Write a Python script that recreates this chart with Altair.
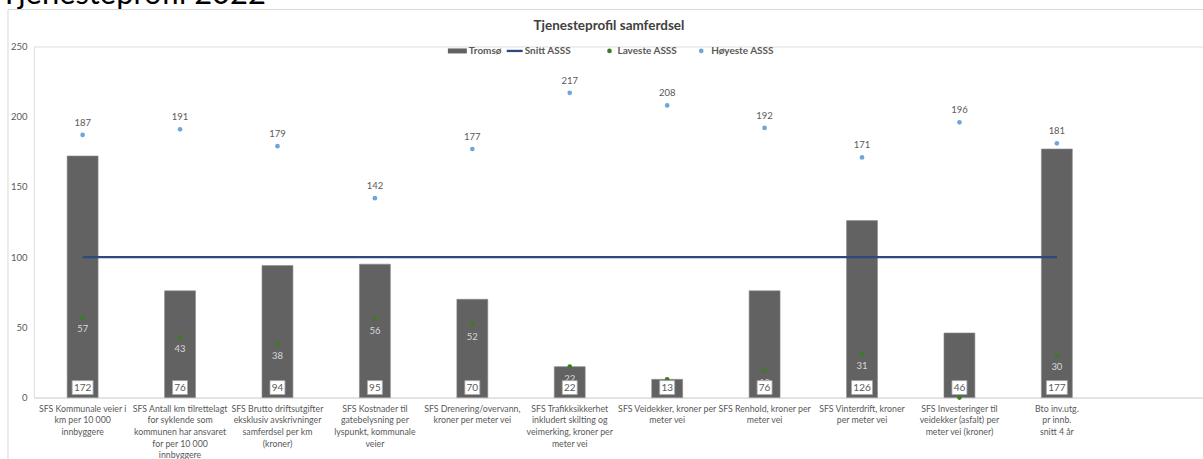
import altair as alt
import pandas as pd

categories = [
    "SFS Kommunale veier i\nkm per 10 000\ninnbyggere",
    "SFS Antall km tilrettelagt\nfor syklende som\nkommunen har ansvaret\nfor per 10 000\ninnbyggere",
    "SFS Brutto driftsutgifter\neksklusiv avskrivninger\nsamferdsel per km\n(kroner)",
    "SFS Kostnader til\ngatebelysning per\nlyspunkt, kommunale\nveier",
    "SFS Drenering/overvann,\nkroner per meter vei",
    "SFS Trafikksikkerhet\ninkludert skilting og\nveimerking, kroner per\nmeter vei",
    "SFS Veidekker, kroner per\nmeter vei",
    "SFS Renhold, kroner per\nmeter vei",
    "SFS Vinterdrift, kroner\nper meter vei",
    "SFS Investeringer til\nveidekker (asfalt) per\nmeter vei (kroner)",
    "Bto inv.utg.\npr innb.\nsnitt 4 år",
]
empty_slot = " "
tromso = [172, 76, 94, 95, 70, 22, 13, 76, 126, 46, 177]
snitt = [100, 100, 100, 100, 100, 100, 100, 100, 100, 100, 100]
laveste = [57, 43, 38, 56, 52, 22, 13, 19, 31, 0, 30]
hoyeste = [187, 191, 179, 142, 177, 217, 208, 192, 171, 196, 181]
y_ticks = [0, 50, 100, 150, 200, 250]

FONT = "Lato"
GREY_TXT = "#595959"
BAR = "#626262"
BLUE_LINE = "#2c4a7e"
GREEN = "#3f7a25"
LIGHTBLUE = "#6ea6dc"

df = pd.DataFrame({
    "cat": categories,
    "tromso": tromso,
    "snitt": snitt,
    "lav": laveste,
    "hoy": hoyeste,
})
one = pd.DataFrame({"k": [0]})

W, H = 1172, 352
OX, OY = 34, 46  # plot origin in page pixels

xenc = alt.X("cat:N", sort=None,
             scale=alt.Scale(domain=categories + [empty_slot], paddingInner=0, paddingOuter=0),
             axis=alt.Axis(labels=False, ticks=False, title=None, domainColor="#d9d9d9", domainWidth=1))
yscale = alt.Scale(domain=[0, 250], nice=False)

base = alt.Chart(df)

frame = alt.Chart(one).mark_rect(fillOpacity=0, stroke="#d9d9d9", strokeWidth=1).encode(
    x=alt.value(8 - OX), x2=alt.value(1300), y=alt.value(9 - OY), y2=alt.value(500))

bars = base.mark_bar(size=31, color=BAR, stroke="#8a8a8a", strokeWidth=0.6).encode(
    x=xenc,
    y=alt.Y("tromso:Q", scale=yscale,
            axis=alt.Axis(values=y_ticks, grid=False, domain=False, ticks=False, title=None,
                          labelColor=GREY_TXT, labelFontSize=9.5, labelFont=FONT, labelPadding=7)),
)

line = base.mark_line(color=BLUE_LINE, strokeWidth=2.3).encode(
    x="cat:N", y=alt.Y("snitt:Q", scale=yscale))

lav_pts = base.mark_circle(size=22, color=GREEN, opacity=1).encode(
    x="cat:N", y=alt.Y("lav:Q", scale=yscale))
lav_txt = base.transform_filter("datum.lav > 0").mark_text(
    dy=12, fontSize=9.5, font=FONT, color="#d9d9d9").encode(
    x="cat:N", y=alt.Y("lav:Q", scale=yscale), text="lav:Q")

hoy_pts = base.mark_circle(size=22, color=LIGHTBLUE, opacity=1).encode(
    x="cat:N", y=alt.Y("hoy:Q", scale=yscale))
hoy_txt = base.mark_text(dy=-12, fontSize=9.5, font=FONT, color=GREY_TXT).encode(
    x="cat:N", y=alt.Y("hoy:Q", scale=yscale), text="hoy:Q")

box3 = base.transform_filter("datum.tromso >= 100").mark_bar(
    size=21, color="white", stroke="#a6a6a6", strokeWidth=0.8).encode(
    x="cat:N", y=alt.value(335), y2=alt.value(349))
box2 = base.transform_filter("datum.tromso < 100").mark_bar(
    size=15, color="white", stroke="#a6a6a6", strokeWidth=0.8).encode(
    x="cat:N", y=alt.value(335), y2=alt.value(349))
box_txt = base.mark_text(fontSize=10, font=FONT, color=GREY_TXT, baseline="middle").encode(
    x="cat:N", y=alt.value(342.5), text="tromso:Q")

cat_txt = base.mark_text(baseline="top", lineBreak="\n", lineHeight=11.7, fontSize=8.8,
                         font=FONT, color=GREY_TXT).encode(
    x="cat:N", y=alt.value(359), text="cat:N")

# titles
big_title = alt.Chart(one).mark_text(align="left", baseline="alphabetic", fontSize=31,
                                     font=FONT, color="#000000").encode(
    x=alt.value(0 - OX), y=alt.value(3 - OY), text=alt.value("Tjenesteprofil 2022"))
chart_title = alt.Chart(one).mark_text(align="center", baseline="middle", fontSize=13.5,
                                       fontWeight="bold", font=FONT, color="#404040").encode(
    x=alt.value(610.5 - OX), y=alt.value(25.5 - OY), text=alt.value("Tjenesteprofil samferdsel"))

# legend
LY = 50.5 - OY
leg_rect = alt.Chart(one).mark_rect(color=BAR).encode(
    x=alt.value(449 - OX), x2=alt.value(468 - OX), y=alt.value(LY - 2.5), y2=alt.value(LY + 2.5))
leg_line = alt.Chart(one).mark_rule(color=BLUE_LINE, strokeWidth=2.3).encode(
    x=alt.value(508 - OX), x2=alt.value(524 - OX), y=alt.value(LY))
leg_g = alt.Chart(one).mark_circle(size=22, color=GREEN, opacity=1).encode(
    x=alt.value(611 - OX), y=alt.value(LY))
leg_b = alt.Chart(one).mark_circle(size=22, color=LIGHTBLUE, opacity=1).encode(
    x=alt.value(703 - OX), y=alt.value(LY))
legend_items = []
for label, px in [("Tromsø", 470), ("Snitt ASSS", 526), ("Laveste ASSS", 619), ("Høyeste ASSS", 713)]:
    legend_items.append(alt.Chart(one).mark_text(
        align="left", baseline="middle", fontSize=10, fontWeight="bold", font=FONT, color=GREY_TXT).encode(
        x=alt.value(px - OX), y=alt.value(LY), text=alt.value(label)))

chart = alt.layer(
    frame, bars, line, lav_pts, lav_txt, hoy_pts, hoy_txt, box3, box2, box_txt, cat_txt,
    big_title, chart_title, leg_rect, leg_line, leg_g, leg_b, *legend_items
).properties(
    width=W, height=H,
    autosize=alt.AutoSizeParams(type="none"),
    padding={"left": OX, "top": OY, "right": 0, "bottom": 459 - OY - H},
).configure_view(stroke=None).configure(background="white")

chart.save("out.html", embed_options={"renderer": "svg", "actions": False})
